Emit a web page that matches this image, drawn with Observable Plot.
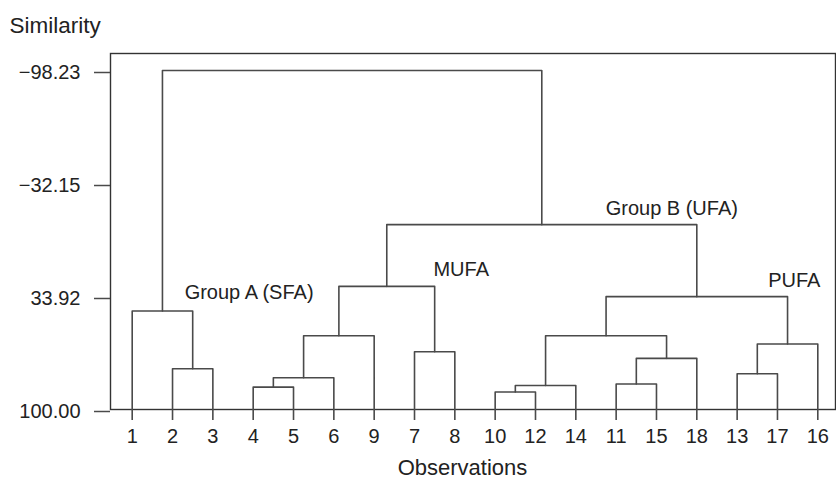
<!DOCTYPE html>
<html><head><meta charset="utf-8">
<script src="https://cdn.jsdelivr.net/npm/d3@7"></script>
<script src="https://cdn.jsdelivr.net/npm/@observablehq/plot@0.6"></script>
<style>body{margin:0;background:#fff;}</style>
</head><body><div id="chart"></div>
<script>
// Leaf order along the x axis
const leafOrder = ["1","2","3","4","5","6","9","7","8","10","12","14","11","15","18","13","17","16"];
// Agglomeration steps: node id, two children, similarity level of the merge
const mergeId    = ["n1","n2","n3","n4","n5","n6","n7","n8","n9","n10","n11","n12","n13","n14","n15","n16","n17"];
const mergeLeft  = ["2","1","4","n3","n4","7","n5","10","n8","11","n10","n9","13","n13","n12","n7","n2"];
const mergeRight = ["3","n1","5","6","9","8","n6","12","14","15","18","n11","17","16","n14","n15","n16"];
const mergeSim   = [76.2, 42.4, 86.9, 81.4, 56.9, 66.2, 28.0, 89.8, 86.0, 85.1, 70.1, 56.9, 79.1, 61.7, 34.0, -8.1, -98.23];
const leafSim = 100;
// Y tick labels
const yTicks = [-98.23, -32.15, 33.92, 100.00];
// Group annotations
const annText = ["Group A (SFA)", "MUFA", "Group B (UFA)", "PUFA"];
const annX = [1.3, 7.47, 11.74, 15.77];
const annY = [31.5, 18.4, -17.3, 24.7];
const yTitle = "Similarity";
const xTitle = "Observations";

const pos = new Map();
leafOrder.forEach((l, i) => pos.set(l, {x: i, y: leafSim}));
const paths = [];
mergeId.forEach((id, k) => {
  const a = pos.get(mergeLeft[k]), b = pos.get(mergeRight[k]), h = mergeSim[k];
  pos.set(id, {x: (a.x + b.x) / 2, y: h});
  paths.push({id, x: a.x, y: a.y}, {id, x: a.x, y: h}, {id, x: b.x, y: h}, {id, x: b.x, y: b.y});
});

const lineColor = "#4a4a4a";
const plot = Plot.plot({
  width: 836, height: 480,
  marginLeft: 110, marginRight: 1, marginTop: 53, marginBottom: 71,
  style: {fontFamily: "'Liberation Sans', Arial, Helvetica, sans-serif", fontSize: "20px", color: "#222", background: "#fff"},
  x: {domain: [0, leafOrder.length - 1], insetLeft: 21.7, insetRight: 17.7},
  y: {domain: [100, -98.23], insetTop: 17},
  marks: [
    Plot.frame({stroke: "#333", strokeWidth: 1.4}),
    Plot.axisY(yTicks, {tickSize: 16, tickPadding: 14, tickFormat: d => d.toFixed(2).replace("-", "\u2212"), label: null, stroke: lineColor, strokeWidth: 1.5, dy: 2, fontSize: 20}),
    Plot.axisX(d3.range(leafOrder.length), {tickSize: 11, tickPadding: 8, tickFormat: i => leafOrder[i], label: null, stroke: lineColor, strokeWidth: 1.6, fontSize: 20}),
    Plot.line(paths, {x: "x", y: "y", z: "id", stroke: lineColor, strokeWidth: 1.6}),
    Plot.text(annText, {x: (d, i) => annX[i], y: (d, i) => annY[i], text: d => d, textAnchor: "start", lineAnchor: "middle", fontSize: 20, fill: "#222"}),
    Plot.text([yTitle], {frameAnchor: "top-left", lineAnchor: "middle", dx: -101, dy: -28, textAnchor: "start", fontSize: 22.5, fill: "#222"}),
    Plot.text([xTitle], {frameAnchor: "bottom", lineAnchor: "middle", dx: -10.5, dy: 58.5, fontSize: 22, fill: "#222"})
  ]
});
document.getElementById("chart").append(plot);
</script>
</body></html>
